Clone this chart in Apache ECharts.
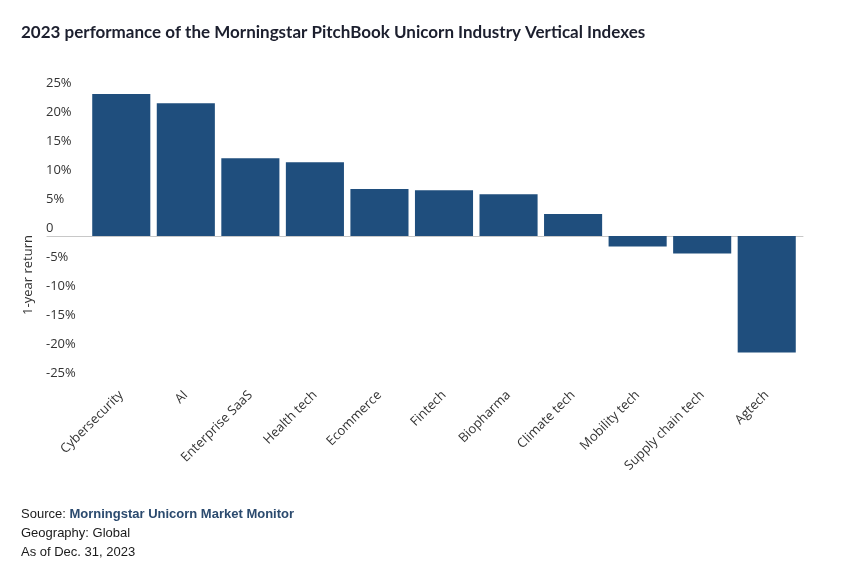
<!DOCTYPE html>
<html>
<head>
<meta charset="utf-8">
<script src="https://cdn.jsdelivr.net/npm/echarts@6/dist/echarts.min.js"></script>
<style>html,body{margin:0;padding:0;background:#fff}#c{width:855px;height:570px}</style>
</head>
<body>
<div id="c"></div>
<script>
const categories = ['Cybersecurity','AI','Enterprise SaaS','Health tech','Ecommerce','Fintech','Biopharma','Climate tech','Mobility tech','Supply chain tech','Agtech'];
const returns = [24.5, 22.9, 13.4, 12.7, 8.1, 7.9, 7.2, 3.8, -1.8, -3.0, -20.1];
const yMin = -25, yMax = 25, yStep = 5;

const chart = echarts.init(document.getElementById('c'), null, {renderer:'canvas'});
chart.setOption({
  animation: false,
  title: [
    {text: '2023 performance of the Morningstar PitchBook Unicorn Industry Vertical Indexes',
     left: 16, top: 19,
     textStyle: {fontFamily: 'Lato', fontSize: 17, fontWeight: 'bold', color: '#1c1f2e'}},
    {text: '{a|Source: }{b|Morningstar Unicorn Market Monitor}\n{a|Geography: Global}\n{a|As of Dec. 31, 2023}',
     left: 16, top: 500,
     textStyle: {fontWeight: 'normal', rich: {
       a: {fontFamily: 'Liberation Sans', fontSize: 13, fontWeight: 'normal', color: '#1a1a1a', lineHeight: 19},
       b: {fontFamily: 'Liberation Sans', fontSize: 13, fontWeight: 'bold', color: '#2b4a6e', lineHeight: 19}
     }}}
  ],
  grid: [
    {left: 89, right: 56, top: 91, bottom: 189},
    {left: 47, right: 52, top: 91, bottom: 189}
  ],
  xAxis: [
    {type: 'category', gridIndex: 0, data: categories,
     axisLine: {show: false, onZero: false}, axisTick: {show: false},
     axisLabel: {rotate: 45, margin: 12, interval: 0, fontFamily: 'Open Sans', fontSize: 13, color: '#333'}},
    {type: 'value', gridIndex: 1, min: 0, max: 1,
     axisLine: {show: true, onZero: true, lineStyle: {color: '#c8c8c8', width: 1}},
     axisTick: {show: false}, axisLabel: {show: false}, splitLine: {show: false}}
  ],
  yAxis: [
    {type: 'value', gridIndex: 0, min: yMin, max: yMax, interval: yStep,
     name: '1-year return', nameLocation: 'middle', nameGap: 53, nameRotate: 90,
     nameTextStyle: {fontFamily: 'Open Sans', fontSize: 13, color: '#333', padding: [0, 78, 0, 0]},
     axisLine: {show: false}, axisTick: {show: false}, splitLine: {show: false},
     axisLabel: {align: 'left', margin: 43, verticalAlign: 'bottom', padding: [0,0,1,0],
       fontFamily: 'Open Sans', fontSize: 13, color: '#333',
       formatter: v => v === 0 ? '0' : v + '%'}},
    {type: 'value', gridIndex: 1, min: yMin, max: yMax, show: false}
  ],
  series: [
    {type: 'bar', xAxisIndex: 0, yAxisIndex: 0, data: returns, barCategoryGap: '10%',
     itemStyle: {color: '#1f4e7d'}, z: 1},
    {type: 'line', xAxisIndex: 1, yAxisIndex: 1, data: [], silent: true}
  ]
});
</script>
</body>
</html>
